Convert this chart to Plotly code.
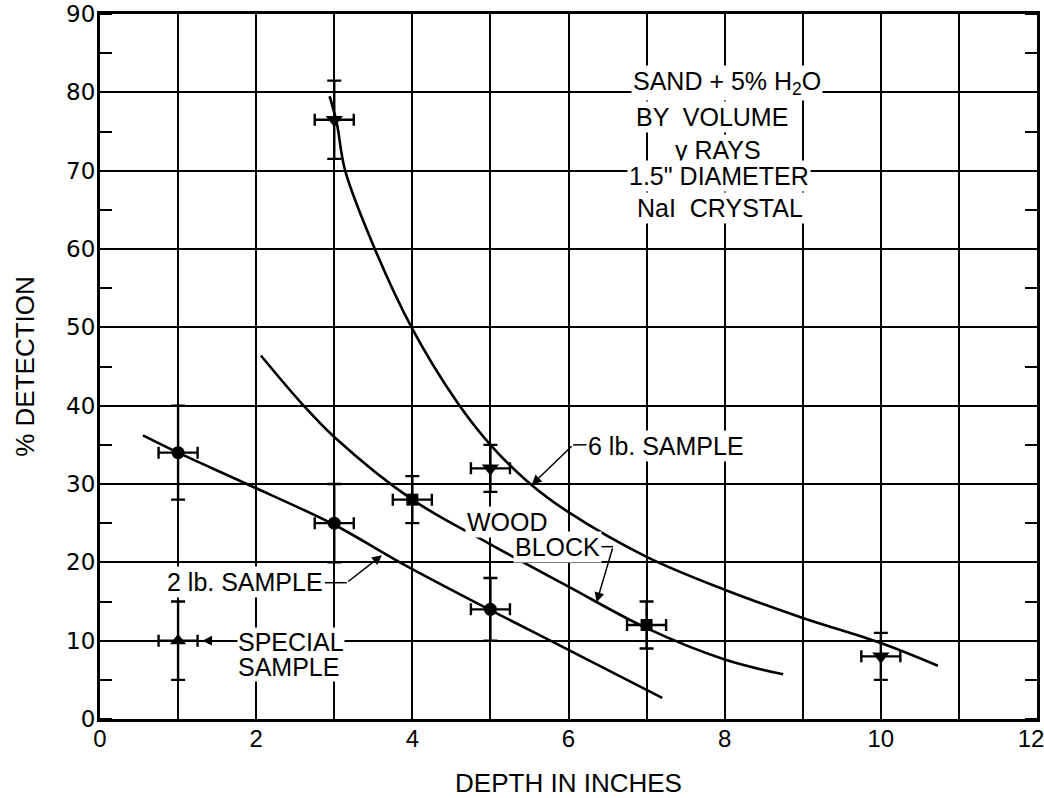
import plotly.graph_objects as go

# ---------------- data ----------------
x_tick_vals = [0, 2, 4, 6, 8, 10, 12]
x_tick_text = ["0", "2", "4", "6", "8", "10", "12\u2002"]
y_tick_vals = [0, 10, 20, 30, 40, 50, 60, 70, 80, 90]
y_tick_text = ["0", "10", "20", "30", "40", "50", "60", "70", "80", "90"]

# measured points
lb2_x = [1, 3, 5]
lb2_y = [34, 25, 14]
lb2_yerr = [6, 5, 4]

wood_x = [4, 7]
wood_y = [28, 12]
wood_yerr = [3, 3]

lb6_x = [3, 5, 10]
lb6_y = [76.5, 32, 8]
lb6_yerr = [5, 3, 3]

special_x = [1]
special_y = [10]
special_yerr = [5]

depth_err = 0.25

# hand-drawn fitted curves
lb6_curve_x = [2.94, 3.03, 3.14, 3.52, 3.99, 4.57, 5.0, 5.5, 6.0, 7.0, 8.0, 9.0, 10.0, 10.73]
lb6_curve_y = [79.5, 76.2, 70.0, 60.0, 50.0, 40.5, 35.0, 30.1, 26.4, 20.7, 16.5, 12.9, 9.7, 6.8]

wood_curve_x = [2.06, 2.59, 3.0, 4.0, 5.0, 6.0, 7.0, 8.0, 8.75]
wood_curve_y = [46.4, 40.2, 36.0, 28.0, 22.3, 16.9, 11.6, 7.6, 5.7]

lb2_curve_x = [0.55, 1.0, 1.88, 3.0, 3.84, 5.0, 5.63, 7.2]
lb2_curve_y = [36.2, 34.0, 30.0, 24.8, 20.0, 13.9, 10.7, 2.7]

info_lines = ["SAND + 5% H<sub>2</sub>O", "BY  VOLUME", "γ RAYS", "1.5\" DIAMETER", "NaI  CRYSTAL"]

# ---------------- figure ----------------
fig = go.Figure()

LINE_W = 2.6
for cx, cy in [(lb6_curve_x, lb6_curve_y), (wood_curve_x, wood_curve_y), (lb2_curve_x, lb2_curve_y)]:
    fig.add_trace(go.Scatter(x=cx, y=cy, mode="lines",
                             line=dict(color="black", width=LINE_W, shape="spline", smoothing=1.0),
                             hoverinfo="skip"))

def pts(xs, ys, yerr, symbol, size):
    return go.Scatter(
        x=xs, y=ys, mode="markers",
        marker=dict(symbol=symbol, size=size, color="black"),
        error_y=dict(type="data", array=yerr, color="black", thickness=2.4, width=7),
        error_x=dict(type="constant", value=depth_err, color="black", thickness=2.4, width=6),
    )

fig.add_trace(pts(lb2_x, lb2_y, lb2_yerr, "circle", 13))
fig.add_trace(pts(wood_x, wood_y, wood_yerr, "square", 12))
fig.add_trace(pts(lb6_x, lb6_y, lb6_yerr, "triangle-down", 15))
fig.add_trace(pts(special_x, special_y, special_yerr, "triangle-up", 14))

FONT = "Liberation Sans, Arial, sans-serif"
TXT = dict(family=FONT, size=25, color="black")

annotations = []
# information block
info_x = [8.03, 7.84, 7.92, 7.93, 7.94]
info_y = [81.2, 76.8, 72.7, 69.3, 65.2]
for t, xx, yy in zip(info_lines, info_x, info_y):
    annotations.append(dict(x=xx, y=yy, xref="x", yref="y", text=t, showarrow=False,
                            font=TXT, bgcolor="white", borderpad=1))

# curve labels
annotations += [
    dict(x=6.22, y=34.8, text="6 lb. SAMPLE", xanchor="left", showarrow=False, font=TXT,
         bgcolor="white", borderpad=1),
    dict(x=5.22, y=25.1, text="WOOD", showarrow=False, font=TXT, bgcolor="white", borderpad=1),
    dict(x=5.86, y=22.0, text="BLOCK", showarrow=False, font=TXT, bgcolor="white", borderpad=1),
    dict(x=2.88, y=17.5, text="2 lb. SAMPLE", xanchor="right", showarrow=False, font=TXT,
         bgcolor="white", borderpad=1),
    dict(x=1.76, y=9.8, text="SPECIAL", xanchor="left", showarrow=False, font=TXT,
         bgcolor="white", borderpad=0),
    dict(x=1.76, y=6.6, text="SAMPLE", xanchor="left", showarrow=False, font=TXT,
         bgcolor="white", borderpad=0),
]
# arrows (tail -> tip)
arrows = [((6.06, 35.0), (5.53, 29.9)),
          ((6.57, 22.0), (6.36, 14.9)),
          ((3.16, 17.4), (3.61, 20.9)),
          ((1.76, 10.0), (1.31, 10.0))]
for (tx, ty), (hx, hy) in arrows:
    annotations.append(dict(x=hx, y=hy, ax=tx, ay=ty, xref="x", yref="y", axref="x", ayref="y",
                            text="", showarrow=True, arrowhead=2, arrowsize=1.3, arrowwidth=1.5,
                            arrowcolor="black", standoff=0, startstandoff=0))

shapes = [
    dict(type="line", x0=6.06, y0=35.0, x1=6.24, y1=35.0, line=dict(color="black", width=1.5)),
    dict(type="line", x0=6.38, y0=22.0, x1=6.57, y1=22.0, line=dict(color="black", width=1.5)),
    dict(type="line", x0=2.88, y0=17.4, x1=3.16, y1=17.4, line=dict(color="black", width=1.5)),
]

fig.update_layout(
    width=1044, height=798,
    margin=dict(l=100, r=7, t=14, b=79),
    plot_bgcolor="white", paper_bgcolor="white",
    showlegend=False,
    annotations=annotations,
    shapes=shapes,
    font=dict(family=FONT, color="black"),
)

fig.update_xaxes(
    range=[0, 12], tickvals=x_tick_vals, ticktext=x_tick_text,
    showgrid=True, gridcolor="black", gridwidth=2,
    minor=dict(dtick=1, tick0=0, showgrid=True, gridcolor="black", gridwidth=2),
    showline=True, linecolor="black", linewidth=3, mirror=True,
    ticks="", zeroline=False, automargin=False, ticklabeloverflow="allow",
    ticklabelstandoff=-4,
    tickfont=dict(family="Liberation Sans Narrow, Liberation Sans, sans-serif", size=24),
    title=dict(text="DEPTH IN INCHES", font=dict(family=FONT, size=26), standoff=29),
)
fig.update_yaxes(
    range=[0, 90], tickvals=y_tick_vals, ticktext=y_tick_text,
    showgrid=True, gridcolor="black", gridwidth=2,
    minor=dict(dtick=5, tick0=0, ticks="inside", ticklen=12, tickwidth=2, tickcolor="black", showgrid=False),
    showline=True, linecolor="black", linewidth=3, mirror="allticks",
    ticks="", zeroline=False, automargin=False, ticklabeloverflow="allow",
    ticklabelstandoff=-3,
    tickfont=dict(family="DejaVu Sans, sans-serif", size=23),
    title=dict(text="% DETECTION", font=dict(family=FONT, size=26), standoff=25),
)

# remove the default 8px page margin so the 1044x798 figure fills the window exactly
fig.write_html("out.html", config={"displayModeBar": False},
               post_script="document.body.style.margin='0';")
